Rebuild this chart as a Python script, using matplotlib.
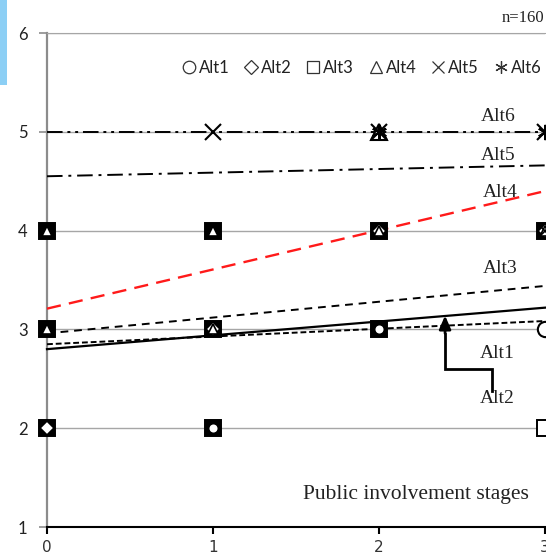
import matplotlib

matplotlib.use("Agg")
import matplotlib.pyplot as plt  # noqa: E402
from matplotlib.lines import Line2D  # noqa: E402
from matplotlib.patches import Rectangle  # noqa: E402

# stages on the x axis
stages = [0, 1, 2, 3]
y_ticks = [1, 2, 3, 4, 5, 6]

# observed points per alternative (stage, score)
alt1_x = [0, 1, 2, 3]
alt1_y = [2, 2, 3, 3]
alt2_x = [0, 1, 2, 3]
alt2_y = [2, 3, 4, 4]
alt3_x = [0, 0, 0, 1, 1, 1, 2, 2, 3, 3]
alt3_y = [2, 3, 4, 2, 3, 4, 3, 4, 2, 4]
alt4_x = [0, 0, 1, 1, 2, 2, 3]
alt4_y = [3, 4, 3, 4, 4, 5, 4]
alt5_x = [1, 2, 3, 3]
alt5_y = [5, 5, 5, 4]
alt6_x = [2, 3]
alt6_y = [5, 5]

# linear trend lines: value at stage 0 and at stage 3
trend_names = ["Alt1", "Alt2", "Alt3", "Alt4", "Alt5", "Alt6"]
trend_start = [2.80, 2.85, 2.96, 3.21, 4.55, 5.00]
trend_end = [3.22, 3.085, 3.44, 4.40, 4.66, 5.00]

series = [
    ("Alt1", alt1_x, alt1_y, "o"),
    ("Alt2", alt2_x, alt2_y, "D"),
    ("Alt3", alt3_x, alt3_y, "s"),
    ("Alt4", alt4_x, alt4_y, "^"),
    ("Alt5", alt5_x, alt5_y, "x"),
    ("Alt6", alt6_x, alt6_y, (6, 2, 0)),
]

fig = plt.figure(figsize=(5.46, 5.56), dpi=100)
ax = fig.add_axes([47 / 546, 1 - 527 / 556, 498 / 546, 494 / 556])

# blue fragment in the top left corner
fig.patches.append(
    Rectangle((0, 1 - 85 / 556), 7 / 546, 85 / 556, transform=fig.transFigure,
              facecolor="#8ccff5", edgecolor="none")
)

ax.set_xlim(0, 3)
ax.set_ylim(1, 6)
ax.set_xticks(stages)
ax.set_yticks(y_ticks)
ax.yaxis.grid(True, color="#a6a6a6", linewidth=1.0)
ax.set_axisbelow(True)
ax.spines["right"].set_visible(False)
ax.spines["top"].set_color("#a6a6a6")
ax.spines["left"].set_color("#8c8c8c")
ax.spines["left"].set_linewidth(1.6)
ax.spines["bottom"].set_color("black")
ax.spines["bottom"].set_linewidth(1.5)
ax.tick_params(axis="y", length=6, width=1.2, color="#8c8c8c", labelsize=12,
               labelcolor="#222222", pad=8)
ax.tick_params(axis="x", length=5, width=1.5, color="black", labelsize=11,
               labelcolor="#333333", pad=4)
for lab in ax.get_yticklabels():
    lab.set_fontfamily("Lato")
for lab in ax.get_xticklabels():
    lab.set_fontfamily("DejaVu Sans")

# trend lines
styles = {
    "Alt1": dict(color="black", linestyle="-", linewidth=1.6),
    "Alt2": dict(color="black", linestyle=(0, (3, 1.5)), linewidth=1.4),
    "Alt3": dict(color="black", linestyle=(0, (4, 3)), linewidth=1.4),
    "Alt4": dict(color="#ff1a1a", linestyle=(0, (6, 3.5)), linewidth=1.7),
    "Alt5": dict(color="black", linestyle=(0, (8, 3, 1.5, 3)), linewidth=1.4),
    "Alt6": dict(color="black", linestyle=(0, (8, 2.5, 1.5, 2.5, 1.5, 2.5)),
                 linewidth=1.4),
}
for name, y0, y1 in zip(trend_names, trend_start, trend_end):
    ax.plot([stages[0], stages[-1]], [y0, y1], zorder=3, clip_on=False,
            **styles[name])

# positions shared by a square and another marker render as a dark block
occupied = {}
for name, xs, ys, m in series:
    for x, y in zip(xs, ys):
        occupied.setdefault((x, y), []).append(name)

for name, xs, ys, m in series:
    for x, y in zip(xs, ys):
        crowded = len(occupied[(x, y)]) > 1 and "Alt3" in occupied[(x, y)]
        if name == "Alt3":
            ax.plot(x, y, marker="s", markersize=11,
                    markerfacecolor="black" if crowded else "white",
                    markeredgecolor="black", markeredgewidth=1.4,
                    zorder=4, clip_on=False)
        else:
            ax.plot(x, y, marker=m, markersize=7 if crowded else 11,
                    markerfacecolor="white", markeredgecolor="black",
                    markeredgewidth=1.2 if crowded else 1.5,
                    zorder=5, clip_on=False)

# series labels
label_font = dict(family="Liberation Serif", fontsize=14, color="#222222",
                  ha="center", va="center")
ax.text(2.717, 5.15, "Alt6", **label_font)
ax.text(2.717, 4.765, "Alt5", **label_font)
ax.text(2.73, 4.39, "Alt4", **label_font)
ax.text(2.73, 3.62, "Alt3", **label_font)
ax.text(2.71, 2.76, "Alt1", **label_font)
ax.text(2.71, 2.30, "Alt2", **label_font)
ax.text(2.225, 1.334, "Public involvement stages",
        **dict(label_font, fontsize=15.5))

# leader from the Alt2 label to its line
ax.plot([2.679, 2.679, 2.398, 2.398], [2.38, 2.60, 2.60, 2.95],
        color="black", linewidth=2, zorder=6, solid_joinstyle="miter")
ax.annotate("", xy=(2.398, 3.14), xytext=(2.398, 2.96),
            arrowprops=dict(arrowstyle="-|>,head_length=0.8,head_width=0.35",
                            color="black", lw=2, shrinkA=0, shrinkB=0),
            zorder=6)

fig.text(1 - 2 / 546, 1 - 18 / 556, "n=160", family="Liberation Serif",
         fontsize=12, color="#222222", ha="right", va="center")

handles = [
    Line2D([], [], linestyle="none", marker=m,
           markersize=7.5 if m == "D" else 9,
           markerfacecolor="white", markeredgecolor="#333333",
           markeredgewidth=0.9, label=name)
    for name, xs, ys, m in series
]
leg = fig.legend(handles=handles, ncol=6, loc="center right",
                 bbox_to_anchor=(1 + 2 / 546, 1 - 68 / 556), frameon=False,
                 handlelength=0.7, handletextpad=0.25, columnspacing=0.95,
                 prop=dict(family="Lato", size=12), borderaxespad=0)
for t in leg.get_texts():
    t.set_color("#222222")

fig.savefig("out.png", dpi=100)
